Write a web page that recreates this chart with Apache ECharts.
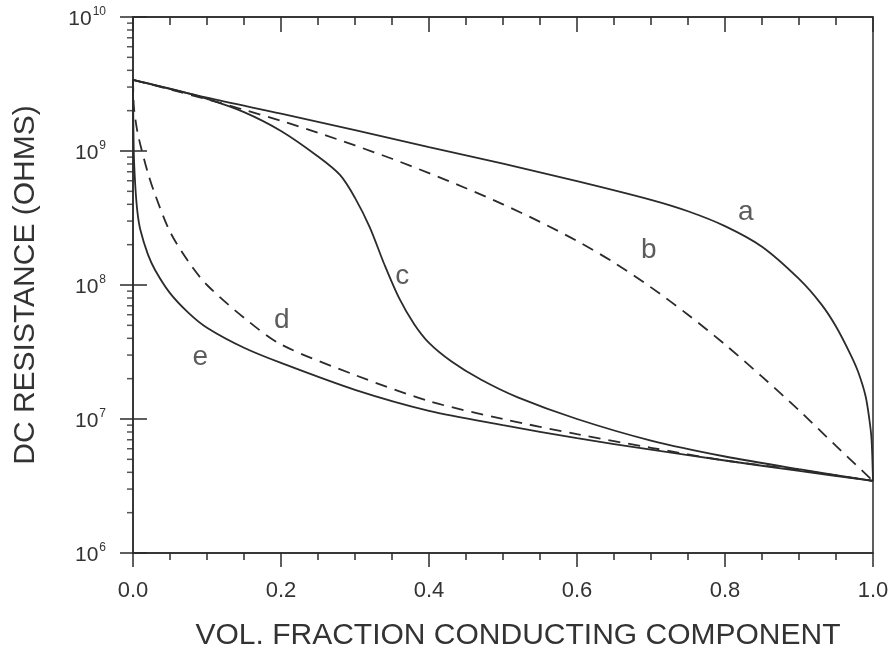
<!DOCTYPE html>
<html>
<head>
<meta charset="utf-8">
<script src="https://cdn.jsdelivr.net/npm/echarts@6/dist/echarts.min.js"></script>
<style>
  html, body { margin: 0; padding: 0; background: #fff; }
  #chart { width: 895px; height: 656px; }
</style>
</head>
<body>
<div id="chart"></div>
<script>
// Volume fraction of the conducting component (x) and DC resistance in ohms (y)
const fracA = [0, 0.1, 0.2, 0.3, 0.4, 0.5, 0.6, 0.7, 0.75, 0.8, 0.85, 0.9, 0.93, 0.95, 0.97, 0.98, 0.99, 0.995, 0.998, 1];
const resA  = [3.4e9, 2.5e9, 1.9e9, 1.43e9, 1.07e9, 8.04e8, 5.96e8, 4.32e8, 3.55e8, 2.75e8, 1.93e8, 1.11e8, 7.2e7, 4.9e7, 3.0e7, 2.24e7, 1.48e7, 1.0e7, 7.1e6, 3.45e6];

const fracB = [0, 0.05, 0.1, 0.15, 0.2, 0.25, 0.3, 0.35, 0.4, 0.45, 0.5, 0.55, 0.6, 0.65, 0.7, 0.75, 0.8, 0.85, 0.9, 0.95, 1];
const resB  = [3.4e9, 2.88e9, 2.43e9, 2.03e9, 1.68e9, 1.37e9, 1.10e9, 8.75e8, 6.84e8, 5.27e8, 4.0e8, 2.96e8, 2.13e8, 1.47e8, 9.6e7, 6.0e7, 3.6e7, 2.07e7, 1.16e7, 6.3e6, 3.45e6];

const fracC = [0, 0.05, 0.1, 0.15, 0.2, 0.25, 0.28, 0.3, 0.32, 0.34, 0.36, 0.38, 0.4, 0.43, 0.47, 0.52, 0.6, 0.7, 0.8, 0.9, 1];
const resC  = [3.4e9, 2.92e9, 2.45e9, 1.95e9, 1.41e9, 9.1e8, 6.6e8, 4.47e8, 2.69e8, 1.41e8, 7.9e7, 5.1e7, 3.7e7, 2.7e7, 1.97e7, 1.45e7, 1.0e7, 6.9e6, 5.25e6, 4.22e6, 3.45e6];

const fracD = [0, 0.001, 0.003, 0.006, 0.01, 0.02, 0.03, 0.05, 0.075, 0.1, 0.15, 0.2, 0.3, 0.4, 0.5, 0.6, 0.7, 0.8, 0.9, 1];
const resD  = [3.4e9, 2.2e9, 1.76e9, 1.39e9, 1.11e9, 6.9e8, 4.7e8, 2.5e8, 1.49e8, 1.0e8, 5.7e7, 3.6e7, 2.13e7, 1.36e7, 1.0e7, 7.7e6, 6.1e6, 4.9e6, 4.16e6, 3.45e6];

const fracE = [0, 0.001, 0.003, 0.006, 0.01, 0.02, 0.03, 0.05, 0.075, 0.1, 0.15, 0.2, 0.3, 0.4, 0.5, 0.6, 0.7, 0.8, 0.9, 1];
const resE  = [3.4e9, 1.02e9, 5.6e8, 3.5e8, 2.57e8, 1.7e8, 1.29e8, 8.7e7, 6.2e7, 4.8e7, 3.4e7, 2.62e7, 1.65e7, 1.15e7, 9.0e6, 7.2e6, 5.9e6, 4.9e6, 4.1e6, 3.45e6];

// Curve letters and where they sit (fraction, ohms)
const curveNames = ['a', 'b', 'c', 'd', 'e'];
const labelFrac  = [0.828, 0.697, 0.364, 0.201, 0.091];
const labelRes   = [3.5e8, 1.82e8, 1.17e8, 5.5e7, 2.9e7];

// Tick labels
const xTickLabels = ['0.0', '0.2', '0.4', '0.6', '0.8', '1.0'];
// Intermediate log ticks (2..9 within each decade)
const logMinorTicks = [
  2e6, 3e6, 4e6, 5e6, 6e6, 7e6, 8e6, 9e6,
  2e7, 3e7, 4e7, 5e7, 6e7, 7e7, 8e7, 9e7,
  2e8, 3e8, 4e8, 5e8, 6e8, 7e8, 8e8, 9e8,
  2e9, 3e9, 4e9, 5e9, 6e9, 7e9, 8e9, 9e9
];

const INK = '#2b2b2b';
const FONT = '"Liberation Sans", Arial, Helvetica, sans-serif';

function pairs(xs, ys) { return xs.map((x, i) => [x, ys[i]]); }

function curve(name, xs, ys, dashed) {
  return {
    name: name,
    type: 'line',
    data: pairs(xs, ys),
    showSymbol: false,
    smooth: 0.3,
    lineStyle: { color: INK, width: 1.8, type: dashed ? [12, 8] : 'solid' },
    silent: true,
    z: 3
  };
}

const chart = echarts.init(document.getElementById('chart'), null, { renderer: 'canvas' });

const option = {
  animation: false,
  backgroundColor: '#ffffff',
  textStyle: { fontFamily: FONT, color: '#333' },
  grid: {
    left: 133, right: 22, top: 17, bottom: 103,
    show: true, borderColor: INK, borderWidth: 1.5, backgroundColor: 'transparent'
  },
  xAxis: [
    {
      type: 'value', min: 0, max: 1, interval: 0.2, position: 'bottom',
      axisLine: { show: true, lineStyle: { color: INK, width: 1.5 } },
      axisTick: { show: true, inside: false, length: 14, lineStyle: { color: INK, width: 1.5 } },
      minorTick: { show: true, splitNumber: 4, length: 7, lineStyle: { color: INK, width: 1.5 } },
      axisLabel: {
        margin: 27, fontSize: 22, color: '#333',
        formatter: (v) => xTickLabels[Math.round(v / 0.2)]
      },
      splitLine: { show: false },
      name: 'VOL. FRACTION CONDUCTING COMPONENT',
      nameLocation: 'middle', nameGap: 68,
      nameTextStyle: { fontSize: 30, color: '#333', padding: [0, 0, 0, 30] }
    },
    {
      type: 'value', min: 0, max: 1, interval: 0.2, position: 'top',
      axisLine: { show: true, lineStyle: { color: INK, width: 1.5 } },
      axisTick: { show: true, inside: true, length: 15, lineStyle: { color: INK, width: 1.5 } },
      minorTick: { show: true, splitNumber: 4, length: 8, lineStyle: { color: INK, width: 1.5 } },
      axisLabel: { show: false },
      splitLine: { show: false }
    }
  ],
  yAxis: [
    {
      type: 'log', logBase: 10, min: 1e6, max: 1e10, position: 'left',
      axisLine: { show: true, lineStyle: { color: INK, width: 1.5 } },
      axisTick: { show: true, inside: false, length: 13, lineStyle: { color: INK, width: 1.5 } },
      axisLabel: {
        margin: 27,
        formatter: (v) => '{b|10}{s|' + Math.round(Math.log10(v)) + '}',
        rich: {
          b: { fontSize: 21, color: '#333', lineHeight: 26, verticalAlign: 'bottom', fontFamily: FONT },
          s: { fontSize: 12, color: '#333', verticalAlign: 'top', padding: [2, 0, 0, 1], fontFamily: FONT }
        }
      },
      splitLine: { show: false },
      name: 'DC RESISTANCE (OHMS)',
      nameLocation: 'middle', nameGap: 92, nameRotate: 90,
      nameTextStyle: { fontSize: 30, color: '#333' }
    },
    {
      type: 'log', logBase: 10, min: 1e6, max: 1e10, position: 'left',
      axisLine: { show: false },
      axisTick: { show: true, inside: true, length: 14, lineStyle: { color: INK, width: 1.5 } },
      axisLabel: { show: false },
      splitLine: { show: false }
    }
  ],
  series: [
    curve('a', fracA, resA, false),
    curve('b', fracB, resB, true),
    curve('c', fracC, resC, false),
    curve('d', fracD, resD, true),
    curve('e', fracE, resE, false),
    {
      name: 'minor ticks',
      type: 'scatter',
      data: logMinorTicks.map((r) => [0, r]),
      symbol: 'rect',
      symbolSize: [6, 1.5],
      symbolOffset: [-3, 0],
      itemStyle: { color: INK },
      clip: false,
      silent: true,
      z: 4
    },
    {
      name: 'curve labels',
      type: 'scatter',
      data: curveNames.map((n, i) => [labelFrac[i], labelRes[i], n]),
      symbolSize: 1,
      itemStyle: { color: 'rgba(0,0,0,0)' },
      label: {
        show: true, position: 'inside',
        formatter: (p) => p.value[2],
        fontSize: 28, color: '#333', fontFamily: FONT
      },
      silent: true,
      z: 5
    }
  ]
};

chart.setOption(option);
</script>
</body>
</html>
